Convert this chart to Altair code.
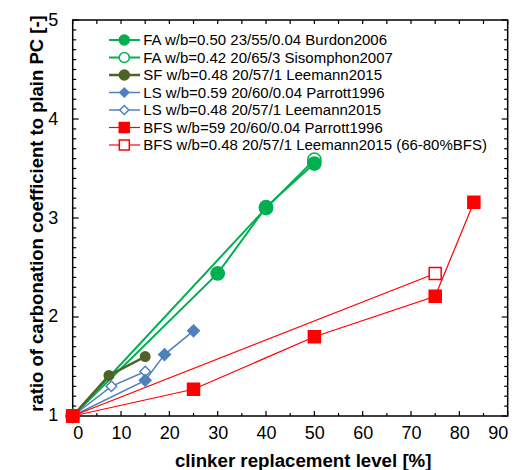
import altair as alt
import pandas as pd

# ---------------- data ----------------
labels = [
    "FA w/b=0.50 23/55/0.04 Burdon2006",
    "FA w/b=0.42 20/65/3 Sisomphon2007",
    "SF w/b=0.48 20/57/1 Leemann2015",
    "LS w/b=0.59 20/60/0.04 Parrott1996",
    "LS w/b=0.48 20/57/1 Leemann2015",
    "BFS w/b=59 20/60/0.04 Parrott1996",
    "BFS w/b=0.48 20/57/1 Leemann2015 (66-80%BFS)",
]
fa_burdon_x = [0, 30, 40, 50]
fa_burdon_y = [1.0, 2.44, 3.11, 3.55]
fa_sisomphon_x = [0, 40, 50]
fa_sisomphon_y = [1.0, 3.10, 3.59]
sf_leemann_x = [0, 7.5, 15]
sf_leemann_y = [1.0, 1.41, 1.60]
ls_parrott_x = [0, 15, 19, 25]
ls_parrott_y = [1.0, 1.36, 1.62, 1.86]
ls_leemann_x = [0, 8, 15]
ls_leemann_y = [1.0, 1.30, 1.45]
bfs_parrott_x = [0, 25, 50, 75, 83]
bfs_parrott_y = [1.0, 1.27, 1.80, 2.21, 3.16]
bfs_leemann_x = [0, 75]
bfs_leemann_y = [1.0, 2.44]

series_x = [fa_burdon_x, fa_sisomphon_x, sf_leemann_x, ls_parrott_x,
            ls_leemann_x, bfs_parrott_x, bfs_leemann_x]
series_y = [fa_burdon_y, fa_sisomphon_y, sf_leemann_y, ls_parrott_y,
            ls_leemann_y, bfs_parrott_y, bfs_leemann_y]

# ---------------- styles ----------------
colors = ["#00B050", "#00B050", "#4F6228", "#4F81BD", "#4F81BD", "#FF0000", "#FF0000"]
fills = ["#00B050", "white", "#4F6228", "#4F81BD", "white", "#FF0000", "white"]
shapes = ["circle", "circle", "circle", "diamond", "diamond", "square", "square"]
marker_sizes = [175, 175, 90, 135, 110, 144, 144]
legend_sizes = [100, 100, 100, 81, 81, 100, 100]
line_widths = [2, 2, 2.5, 1.5, 1.5, 1.2, 1.2]
z_order = [1, 0, 2, 4, 3, 6, 5]

x_ticks_major = [0, 10, 20, 30, 40, 50, 60, 70, 80, 90]
x_ticks_minor = [5, 15, 25, 35, 45, 55, 65, 75, 85]
y_ticks_major = [1, 2, 3, 4, 5]
y_ticks_minor = [round(1 + 0.1 * i, 1) for i in range(41) if i % 10 != 0]

W, H = 435, 396
FONT = "Liberation Sans"

rows = []
for i, (xs, ys) in enumerate(zip(series_x, series_y)):
    for xv, yv in zip(xs, ys):
        rows.append(dict(series=labels[i], x=xv, y=yv, stroke=colors[i], fill=fills[i],
                         shape=shapes[i], size=marker_sizes[i], lw=line_widths[i],
                         z=z_order[i]))
df = pd.DataFrame(rows)
df_pts = df.sort_values("z", kind="stable")

legend_df = pd.DataFrame(dict(label=labels, row=list(range(len(labels))), stroke=colors,
                              fill=fills, shape=shapes, size=legend_sizes, lw=line_widths))

xscale = alt.Scale(domain=[0, 90], nice=False, zero=False)
yscale = alt.Scale(domain=[1, 5], nice=False, zero=False)
lscale = alt.Scale(domain=[0, 6], range=[20, 125])

xaxis = alt.Axis(values=x_ticks_major, ticks=False, domain=False, grid=False,
                 labelFontSize=18, labelPadding=9, labelColor="black",
                 title="clinker replacement level [%]", titleFontSize=18.7,
                 titleFontWeight="bold", titleColor="black",
                 titleBaseline="middle", titleX=230, titleY=45)
yaxis = alt.Axis(values=y_ticks_major, ticks=False, domain=False, grid=False,
                 labelFontSize=18, labelPadding=15, labelColor="black",
                 title="ratio of carbonation coefficient to plain PC [-]", titleFontSize=18.5,
                 titleFontWeight="bold", titleColor="black",
                 titleBaseline="middle", titleX=-36, titleY=193)

lines = alt.Chart(df).mark_line().encode(
    x=alt.X("x:Q", scale=xscale, axis=xaxis),
    y=alt.Y("y:Q", scale=yscale, axis=yaxis),
    detail="series:N",
    color=alt.Color("stroke:N", scale=None),
    strokeWidth=alt.StrokeWidth("lw:Q", scale=None),
)

points = alt.Chart(df_pts).mark_point(opacity=1, strokeWidth=1.5).encode(
    x=alt.X("x:Q", scale=xscale, axis=xaxis),
    y=alt.Y("y:Q", scale=yscale, axis=None),
    shape=alt.Shape("shape:N", scale=None),
    fill=alt.Fill("fill:N", scale=None),
    stroke=alt.Stroke("stroke:N", scale=None),
    size=alt.Size("size:Q", scale=None),
    order=alt.Order("z:Q"),
)

# inward tick marks on all four sides
def yticks(vals, x0, x1):
    return alt.Chart(pd.DataFrame({"v": vals})).mark_rule(color="black", strokeWidth=1.2).encode(
        y=alt.Y("v:Q", scale=yscale, axis=None), x=alt.value(x0), x2=alt.value(x1))

def xticks(vals, y0, y1):
    return alt.Chart(pd.DataFrame({"v": vals})).mark_rule(color="black", strokeWidth=1.2).encode(
        x=alt.X("v:Q", scale=xscale, axis=xaxis), y=alt.value(y0), y2=alt.value(y1))

tick_layers = [
    yticks(y_ticks_major, 0, 6), yticks(y_ticks_minor, 0, 3.5),
    yticks(y_ticks_major, W, W - 6), yticks(y_ticks_minor, W, W - 3.5),
    xticks(x_ticks_major, H, H - 5), xticks(x_ticks_minor, H, H - 3),
    xticks(x_ticks_major + x_ticks_minor, 0, 4),
]

# legend
leg_lines = alt.Chart(legend_df).mark_rule().encode(
    x=alt.value(36.3), x2=alt.value(67.3),
    y=alt.Y("row:Q", scale=lscale, axis=None),
    color=alt.Color("stroke:N", scale=None),
    strokeWidth=alt.StrokeWidth("lw:Q", scale=None),
)
leg_pts = alt.Chart(legend_df).mark_point(opacity=1, strokeWidth=1.5).encode(
    x=alt.value(51.6),
    y=alt.Y("row:Q", scale=lscale, axis=None),
    shape=alt.Shape("shape:N", scale=None),
    fill=alt.Fill("fill:N", scale=None),
    stroke=alt.Stroke("stroke:N", scale=None),
    size=alt.Size("size:Q", scale=None),
)
leg_text = alt.Chart(legend_df).mark_text(align="left", baseline="middle", fontSize=15,
                                          font=FONT, color="black").encode(
    x=alt.value(70.6),
    y=alt.Y("row:Q", scale=lscale, axis=None),
    text="label:N",
)

chart = alt.layer(lines, *tick_layers, points, leg_lines, leg_pts, leg_text).resolve_scale(
    y="independent"
).properties(
    width=W, height=H,
    padding={"left": 64.7, "top": 12, "right": 2, "bottom": 55},
    autosize=alt.AutoSizeParams(type="none"),
).configure(font=FONT).configure_view(stroke="black", strokeWidth=1.5)

chart.save("out.html", embed_options={"renderer": "svg", "actions": False})
